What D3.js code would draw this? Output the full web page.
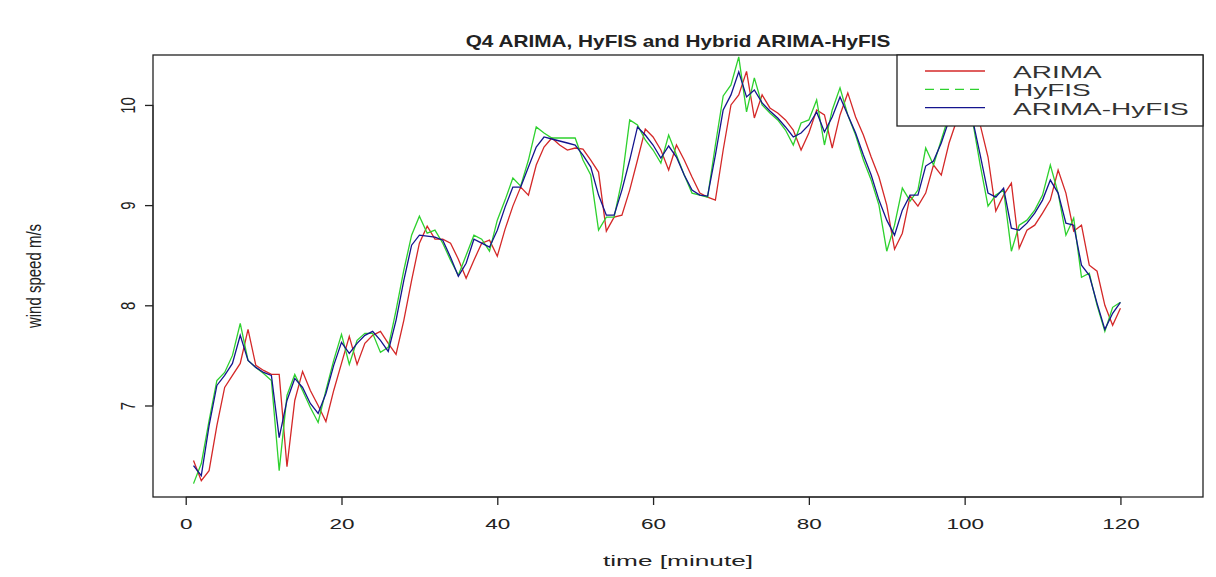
<!DOCTYPE html>
<html>
<head>
<meta charset="utf-8">
<script src="https://cdn.jsdelivr.net/npm/d3@7"></script>
<style>
  body { margin: 0; background: #fff; }
  svg { font-family: "Liberation Sans", Arial, sans-serif; }
</style>
</head>
<body>
<div id="chart"></div>
<script>
// values, one per minute
var arima = [6.45,6.25,6.35,6.80,7.18,7.30,7.42,7.76,7.40,7.35,7.31,7.31,6.39,7.05,7.34,7.15,7.00,6.84,7.15,7.42,
  7.69,7.41,7.62,7.70,7.74,7.62,7.51,7.85,8.25,8.62,8.79,8.66,8.66,8.62,8.46,8.27,8.45,8.62,8.65,8.49,
  8.76,8.99,9.18,9.10,9.40,9.58,9.67,9.60,9.55,9.57,9.56,9.45,9.33,8.74,8.88,8.90,9.15,9.45,9.76,9.68,
  9.55,9.35,9.60,9.45,9.28,9.12,9.08,9.05,9.55,10.00,10.10,10.335,9.87,10.10,9.97,9.92,9.85,9.75,9.55,9.72,
  9.95,9.90,9.57,9.90,10.12,9.88,9.70,9.48,9.28,9.00,8.56,8.72,9.09,8.99,9.12,9.40,9.30,9.62,9.85,9.92,
  9.90,9.80,9.48,8.94,9.10,9.22,8.57,8.75,8.80,8.92,9.05,9.35,9.12,8.74,8.80,8.40,8.34,8.00,7.80,7.97];
var hyfis = [6.22,6.42,6.85,7.25,7.33,7.50,7.82,7.45,7.38,7.32,7.25,6.35,7.10,7.31,7.15,6.98,6.83,7.15,7.45,7.71,
  7.41,7.65,7.72,7.72,7.53,7.58,7.95,8.35,8.70,8.89,8.72,8.75,8.62,8.45,8.30,8.50,8.70,8.66,8.54,8.85,
  9.05,9.27,9.19,9.45,9.78,9.72,9.67,9.67,9.67,9.67,9.45,9.30,8.75,8.88,8.88,9.25,9.85,9.80,9.65,9.55,
  9.42,9.70,9.50,9.30,9.12,9.10,9.08,9.60,10.09,10.20,10.48,9.93,10.27,10.00,9.92,9.85,9.75,9.60,9.82,9.85,
  10.05,9.60,9.95,10.17,9.90,9.70,9.45,9.25,9.00,8.54,8.80,9.17,9.04,9.15,9.57,9.40,9.65,9.90,10.02,9.95,
  9.85,9.40,8.99,9.10,9.15,8.54,8.80,8.85,8.95,9.10,9.40,9.12,8.70,8.87,8.28,8.32,8.00,7.74,7.98,8.03];
var hybrid = [6.40,6.30,6.80,7.20,7.30,7.42,7.70,7.45,7.38,7.33,7.30,6.68,7.05,7.27,7.18,7.02,6.92,7.12,7.40,7.63,
  7.52,7.62,7.70,7.74,7.65,7.54,7.85,8.25,8.60,8.70,8.69,8.68,8.65,8.48,8.29,8.42,8.66,8.62,8.58,8.75,
  8.98,9.18,9.18,9.38,9.58,9.68,9.66,9.64,9.62,9.60,9.50,9.38,9.10,8.90,8.90,9.15,9.45,9.78,9.70,9.60,
  9.47,9.59,9.48,9.30,9.15,9.10,9.09,9.50,9.95,10.10,10.33,10.08,10.15,10.02,9.94,9.87,9.78,9.68,9.72,9.80,
  9.93,9.73,9.88,10.08,9.90,9.72,9.50,9.30,9.05,8.85,8.70,8.95,9.10,9.10,9.39,9.44,9.62,9.85,9.97,9.93,
  9.86,9.50,9.12,9.08,9.17,8.77,8.75,8.82,8.92,9.05,9.25,9.12,8.82,8.80,8.40,8.30,8.02,7.76,7.92,8.03];

var seriesNames = ["ARIMA", "HyFIS", "ARIMA-HyFIS"];
var xTicks = [0, 20, 40, 60, 80, 100, 120];
var yTicks = [7, 8, 9, 10];

var W = 1216, H = 577,
    box = {left: 153, right: 1203, top: 55, bottom: 497},
    xLim = [-4.2, 130.6],
    colors = ["#d42828", "#2ed12e", "#14148e"],
    sx = 1.75; // text in the picture is stretched sideways

var svg = d3.select("#chart").append("svg")
    .attr("width", W)
    .attr("height", H);

var xScale = d3.scaleLinear()
    .domain(xLim)
    .range([box.left, box.right]);
// R style: 4% extension, y range from the first series
var yExt = d3.extent(arima), yPad = 0.04 * (yExt[1] - yExt[0]);
var yScale = d3.scaleLinear()
    .domain([yExt[0] - yPad, yExt[1] + yPad])
    .range([box.bottom, box.top]);

var line = d3.line()
    .x(function(d, i) { return xScale(i + 1); })
    .y(function(d) { return yScale(d); });

[arima, hyfis, hybrid].forEach(function(s, k) {
  svg.append("path")
    .datum(s)
    .attr("fill", "none")
    .attr("stroke", colors[k])
    .attr("stroke-width", 1.3)
    .attr("d", line);
});

// frame
svg.append("rect")
    .attr("x", box.left).attr("y", box.top)
    .attr("width", box.right - box.left)
    .attr("height", box.bottom - box.top)
    .attr("fill", "none").attr("stroke", "#222").attr("stroke-width", 1.3);

// axes
var xAxis = d3.axisBottom(xScale).tickValues(xTicks).tickSize(8).tickFormat(d3.format("d"));
var gx = svg.append("g")
    .attr("transform", "translate(0," + box.bottom + ")")
    .call(xAxis);
gx.select(".domain").attr("d", "M" + xScale(xTicks[0]) + ",0H" + xScale(xTicks[xTicks.length - 1])).attr("stroke", "#222");
gx.selectAll(".tick line").attr("stroke", "#222").attr("stroke-width", 1.3);
gx.selectAll(".tick text")
    .attr("y", 0).attr("dy", null)
    .attr("transform", "translate(0,32) scale(1.5,1)")
    .attr("font-size", 15).attr("fill", "#222")
    .attr("font-family", "Liberation Sans, Arial, sans-serif");

var yAxis = d3.axisLeft(yScale).tickValues(yTicks).tickSize(8).tickFormat(d3.format("d"));
var gy = svg.append("g")
    .attr("transform", "translate(" + box.left + ",0)")
    .call(yAxis);
gy.select(".domain").attr("d", "M0," + yScale(yTicks[0]) + "V" + yScale(yTicks[yTicks.length - 1])).attr("stroke", "#222");
gy.selectAll(".tick line").attr("stroke", "#222").attr("stroke-width", 1.3);
gy.selectAll(".tick text")
    .attr("x", 0).attr("dy", null)
    .attr("text-anchor", "middle")
    .attr("transform", "translate(-18,0) scale(1.3,1) rotate(-90)")
    .attr("font-size", 15).attr("fill", "#222")
    .attr("font-family", "Liberation Sans, Arial, sans-serif");

// titles
svg.append("text")
    .attr("transform", "translate(" + (box.left + box.right) / 2 + ",47) scale(1.3,1)")
    .attr("text-anchor", "middle")
    .attr("font-weight", "bold")
    .attr("font-size", 16)
    .attr("fill", "#222")
    .text("Q4 ARIMA, HyFIS and Hybrid ARIMA-HyFIS");

svg.append("text")
    .attr("transform", "translate(" + (box.left + box.right) / 2 + ",566) scale(" + sx + ",1)")
    .attr("text-anchor", "middle")
    .attr("font-size", 15)
    .attr("fill", "#222")
    .text("time [minute]");

svg.append("text")
    .attr("transform", "translate(41," + (box.top + box.bottom) / 2 + ") scale(1.3,1) rotate(-90)")
    .attr("text-anchor", "middle")
    .attr("font-size", 15)
    .attr("fill", "#222")
    .text("wind speed m/s");

// legend, top right
var lg = {left: 897, top: box.top, bottom: 126};
svg.append("rect")
    .attr("x", lg.left).attr("y", lg.top)
    .attr("width", box.right - lg.left).attr("height", lg.bottom - lg.top)
    .attr("fill", "#fff").attr("stroke", "#222").attr("stroke-width", 1.3);

var legend = svg.selectAll(".legend")
    .data(seriesNames)
    .enter().append("g")
    .attr("class", "legend")
    .attr("transform", function(d, i) { return "translate(0," + (71 + i * 18.3) + ")"; });

legend.append("line")
    .attr("x1", 925).attr("x2", 985)
    .attr("stroke", function(d, i) { return colors[i]; })
    .attr("stroke-width", 1.3)
    .attr("stroke-dasharray", function(d, i) { return i == 1 ? "9,6" : null; });

legend.append("text")
    .attr("transform", "translate(1013,7) scale(" + sx + ",1)")
    .attr("font-size", 16)
    .attr("fill", "#333")
    .text(function(d) { return d; });
</script>
</body>
</html>
